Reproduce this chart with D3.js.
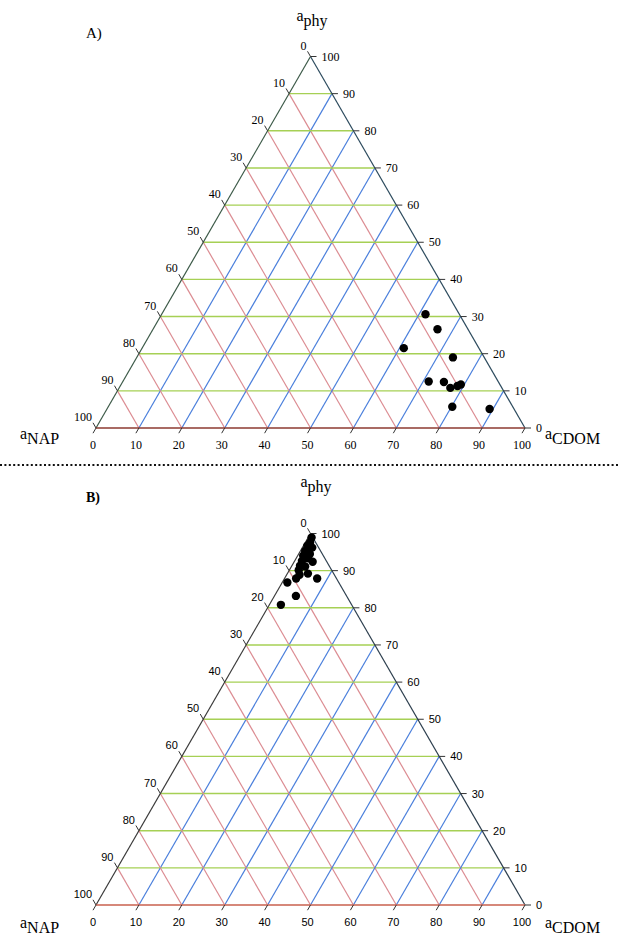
<!DOCTYPE html>
<html>
<head>
<meta charset="utf-8">
<script src="https://cdnjs.cloudflare.com/ajax/libs/d3/7.8.5/d3.min.js"></script>
<style>
  body { margin: 0; background: #fff; }
  svg { display: block; }
  text { font-family: "Liberation Serif", "Times New Roman", serif; fill: #000; }
</style>
</head>
<body>
<script>
// ternary diagrams of absorption budget: phy / NAP / CDOM (percent)

// tick labels along each side
var tickValues = [0, 10, 20, 30, 40, 50, 60, 70, 80, 90, 100];
var gridValues = [10, 20, 30, 40, 50, 60, 70, 80, 90];

// panel A stations
var phyA  = [30.6, 26.6, 21.5, 19.0, 12.5, 12.4, 10.8, 11.3, 11.7, 5.7, 5.1];
var cdomA = [61.5, 66.3, 61.0, 73.7, 71.3, 74.9, 77.2, 78.6, 79.2, 80.2, 89.2];
var napA  = [7.9, 7.1, 17.5, 7.3, 16.2, 12.7, 12.0, 10.1, 9.1, 14.1, 5.7];

// panel B stations
var phyB  = [98.9, 97.6, 96.7, 96.2, 95.3, 94.5, 94.0, 93.3, 92.6, 92.4,
             91.3, 91.1, 90.1, 88.9, 89.2, 87.9, 87.9, 86.8, 83.2, 80.8];
var cdomB = [0.8, 1.1, 0.9, 2.3, 1.1, 2.6, 1.3, 2.8, 1.7, 4.3,
             1.9, 3.2, 2.2, 3.0, 4.8, 2.7, 7.6, 1.2, 5.0, 2.7];
var napB  = [0.3, 1.3, 2.4, 1.5, 3.6, 2.9, 4.7, 3.9, 5.7, 3.3,
             6.8, 5.7, 7.7, 8.1, 6.0, 9.4, 4.5, 12.0, 11.8, 16.5];

var width = 620, height = 939;

var svg = d3.select("body").append("svg")
    .attr("width", width)
    .attr("height", height);

var green = "#a6d055", red = "#dc8c92", blue = "#4a7fdc";

function drawPanel(opts) {
    var g = svg.append("g");
    var x = d3.scaleLinear().domain([0, 100]).range([opts.left, opts.right]);
    var y = d3.scaleLinear().domain([0, 100]).range([opts.base, opts.apex]);

    // ternary -> screen, p = phy, c = cdom
    function px(p, c) { return x(c + p / 2); }
    function py(p) { return y(p); }

    function line(p1, c1, p2, c2, color, w) {
        g.append("line")
            .attr("x1", px(p1, c1)).attr("y1", py(p1))
            .attr("x2", px(p2, c2)).attr("y2", py(p2))
            .style("stroke", color)
            .style("stroke-width", w);
    }

    // grid: constant phy (green), constant NAP (red), constant CDOM (blue)
    gridValues.forEach(function(v) {
        line(v, 0, v, 100 - v, green, 1.4);
        line(0, 100 - v, 100 - v, 0, red, 1.2);
        line(0, v, 100 - v, v, blue, 1.2);
    });

    // edges
    line(0, 0, 100, 0, opts.leftEdge, 1.2);
    line(100, 0, 0, 100, opts.rightEdge, 1.2);
    line(0, 0, 0, 100, opts.baseEdge, 1.4);

    var tk = 6, c30 = Math.cos(Math.PI / 3) * tk, s60 = Math.sin(Math.PI / 3) * tk;

    tickValues.forEach(function(v) {
        // left side: NAP = v  (phy = 100 - v, cdom = 0)
        var lx = px(100 - v, 0), ly = py(100 - v);
        g.append("line")
            .attr("x1", lx).attr("y1", ly)
            .attr("x2", lx - c30).attr("y2", ly - s60)
            .style("stroke", "#333").style("stroke-width", 1);
        g.append("text")
            .attr("x", lx - 4).attr("y", ly - 7)
            .attr("text-anchor", "end")
            .style("font-family", opts.tickFont)
            .style("font-size", opts.tickSize)
            .text(v);

        // right side: phy = v (cdom = 100 - v)
        var rx = px(v, 100 - v), ry = py(v);
        g.append("line")
            .attr("x1", rx).attr("y1", ry)
            .attr("x2", rx + tk).attr("y2", ry)
            .style("stroke", "#333").style("stroke-width", 1);
        g.append("text")
            .attr("x", rx + 11).attr("y", ry + 4)
            .attr("text-anchor", "start")
            .style("font-family", opts.tickFont)
            .style("font-size", opts.tickSize)
            .text(v);

        // bottom: cdom = v
        var bx = px(0, v), by = py(0);
        g.append("line")
            .attr("x1", bx).attr("y1", by)
            .attr("x2", bx - c30).attr("y2", by + s60)
            .style("stroke", "#333").style("stroke-width", 1);
        g.append("text")
            .attr("x", bx - 3).attr("y", by + 21)
            .attr("text-anchor", "middle")
            .style("font-family", opts.tickFont)
            .style("font-size", opts.tickSize)
            .text(v);
    });

    // stations
    g.selectAll("circle.pt")
        .data(opts.phy)
        .enter()
        .append("circle")
        .attr("class", "pt")
        .attr("cx", function(d, i) { return px(d, opts.cdom[i]); })
        .attr("cy", function(d) { return py(d); })
        .attr("r", 4.2)
        .style("fill", "#000");

    // axis names
    function axisName(tx, ty, sub, anchor) {
        var t = g.append("text")
            .attr("x", tx).attr("y", ty)
            .attr("text-anchor", anchor)
            .style("font-size", "16px");
        t.append("tspan").attr("dy", -5).text("a");
        t.append("tspan").attr("dy", 5).text(sub);
    }
    axisName(opts.phyLabel[0], opts.phyLabel[1], "phy", "middle");
    axisName(opts.napLabel[0], opts.napLabel[1], "NAP", "start");
    axisName(opts.cdomLabel[0], opts.cdomLabel[1], "CDOM", "start");

    g.append("text")
        .attr("x", opts.tag[0]).attr("y", opts.tag[1])
        .style("font-size", opts.tagSize)
        .style("font-weight", opts.tagBold ? "bold" : "normal")
        .text(opts.tagText);
}

drawPanel({
    left: 96, right: 525, base: 428, apex: 56.5,
    leftEdge: "#3c5a48", rightEdge: "#2d4b5e", baseEdge: "#8c3a30",
    tickFont: "Liberation Serif", tickSize: "12px",
    phy: phyA, cdom: cdomA, nap: napA,
    phyLabel: [312, 26], napLabel: [20, 444], cdomLabel: [545, 444],
    tag: [86, 38], tagText: "A)", tagBold: false, tagSize: "15px"
});

drawPanel({
    left: 96, right: 525, base: 905, apex: 533.5,
    leftEdge: "#3a3a3a", rightEdge: "#2d3f4e", baseEdge: "#c8604e",
    tickFont: "Liberation Sans", tickSize: "11px",
    phy: phyB, cdom: cdomB, nap: napB,
    phyLabel: [316, 492], napLabel: [20, 933], cdomLabel: [545, 933],
    tag: [86, 502], tagText: "B)", tagBold: true, tagSize: "14px"
});

// dotted separator between the panels
svg.append("line")
    .attr("x1", 0).attr("x2", width)
    .attr("y1", 465).attr("y2", 465)
    .style("stroke", "#111")
    .style("stroke-width", 2.2)
    .style("stroke-dasharray", "2,2.4");
</script>
</body>
</html>
